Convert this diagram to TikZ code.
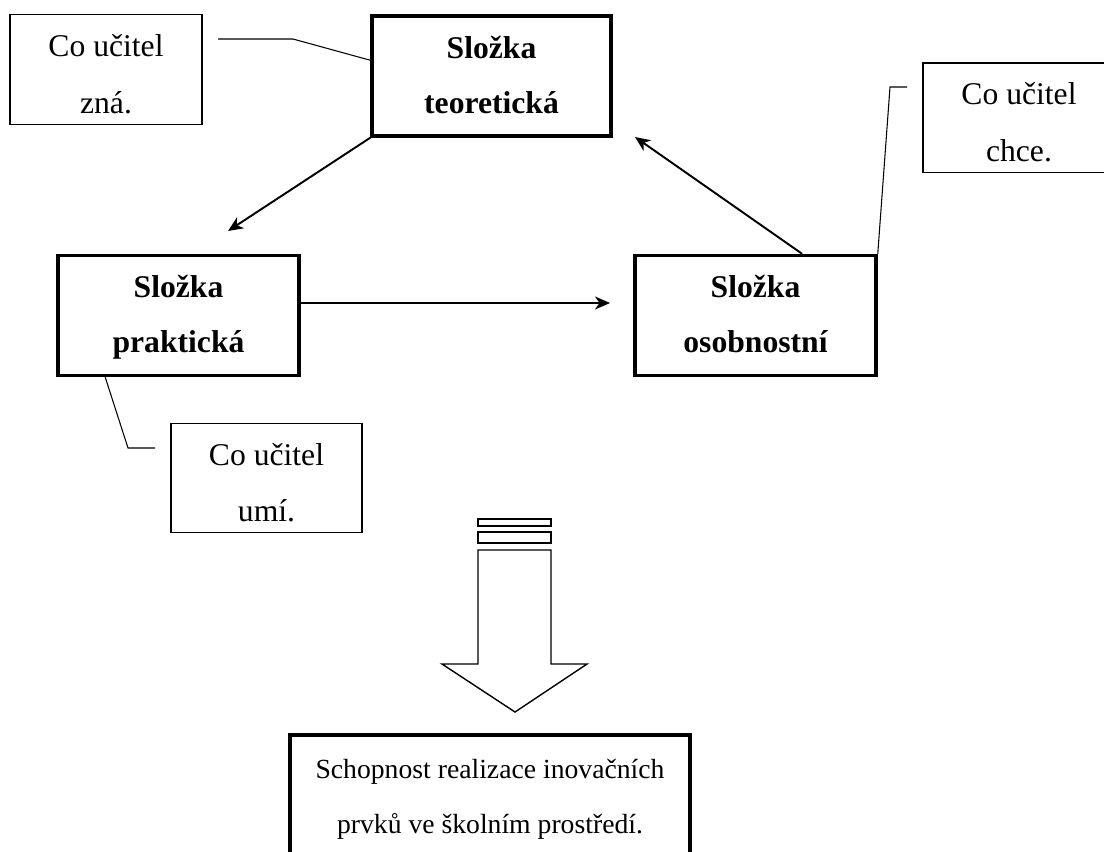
\documentclass[tikz,border=0pt]{standalone}
\usepackage{fontspec}
\setmainfont{Liberation Serif}
\usetikzlibrary{arrows.meta}
\begin{document}
\begin{tikzpicture}[x=0.2mm,y=-0.2mm,
  callout/.style={draw,line width=0.6pt,inner sep=0pt,align=center,
    minimum width=38.4mm,minimum height=21.8mm,
    font=\fontsize{18}{31.9}\selectfont},
  part/.style={draw,line width=2pt,inner sep=0pt,align=center,
    minimum width=48.2mm,minimum height=24mm,
    font=\bfseries\fontsize{18}{31.3}\selectfont},
  result/.style={draw,line width=2pt,inner sep=0pt,align=center,
    minimum width=80mm,minimum height=24.2mm,
    font=\fontsize{15.75}{31.3}\selectfont},
  arr/.style={line width=1.1pt,-{Stealth[length=3mm,width=2.6mm,inset=0.9mm]}},
  lead/.style={line width=0.6pt},
  bigarrow/.style={draw,line width=0.8pt,fill=white}]
\useasboundingbox (0,0) rectangle (1104,851);

% three components
\node[part,minimum width=47.8mm] (teo) at (491.5,76)
  {\rule{0pt}{8.4mm}Složka\\teoretická\rule[-4.6mm]{0pt}{4.6mm}};
\node[part] (pra) at (178.5,315.5)
  {\rule{0pt}{8.4mm}Složka\\praktická\rule[-4.6mm]{0pt}{4.6mm}};
\node[part] (oso) at (755.5,315.5)
  {\rule{0pt}{8.4mm}Složka\\osobnostní\rule[-4.6mm]{0pt}{4.6mm}};

% callouts
\node[callout] (zna) at (106,69.5)
  {\rule{0pt}{8.4mm}Co učitel\\zná.\rule[-2.2mm]{0pt}{2.2mm}};
\node[callout] (chce) at (1019,117.5)
  {\rule{0pt}{8.4mm}Co učitel\\chce.\rule[-2.2mm]{0pt}{2.2mm}};
\node[callout,minimum width=38.2mm] (umi) at (266.5,478)
  {\rule{0pt}{8.4mm}Co učitel\\umí.\rule[-2.2mm]{0pt}{2.2mm}};

% outcome
\node[result] (res) at (490,795.5)
  {\rule{0pt}{8.6mm}Schopnost realizace inovačních\\prvků ve školním prostředí.\rule[-4.6mm]{0pt}{4.6mm}};

% cycle of arrows
\coordinate (praTip) at (228,231);
\coordinate (osoTip) at (610,303);
\coordinate (teoTip) at (635,137);
\draw[arr] (teo.south west) -- (praTip);
\draw[arr] ([yshift=2.5mm]pra.east) -- (osoTip);
\draw[arr] ([xshift=9.3mm]oso.north) -- (teoTip);

% callout leaders
\coordinate (znaEnd) at (218,39);
\coordinate (chceEnd) at (907,87);
\coordinate (umiEnd) at (155,448);
\draw[lead] (znaEnd) -- (293,39) -- ([yshift=-9.2mm]teo.north west);
\draw[lead] (chceEnd) -- (890,87) -- (oso.north east);
\draw[lead] ([xshift=9.8mm]pra.south west) -- (128,448) -- (umiEnd);

% striped block arrow
\draw[bigarrow] (478,519) rectangle (551,526);
\draw[bigarrow] (478,532) rectangle (551,543);
\draw[bigarrow] (478,550) -- (478,664) -- (442,664) -- (515,712)
  -- (587,664) -- (551,664) -- (551,550) -- cycle;
\end{tikzpicture}
\end{document}
